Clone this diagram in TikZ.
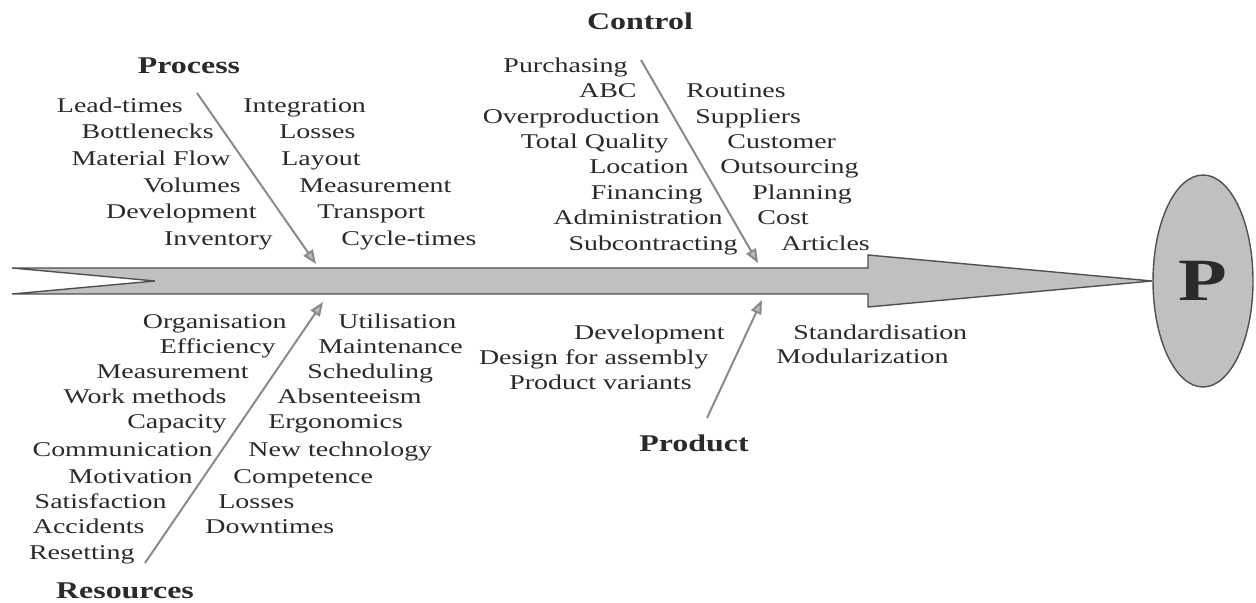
\documentclass[tikz,border=0pt]{standalone}
\usepackage{fontspec}
\setmainfont{Liberation Serif}[FakeStretch=1.33]
\usetikzlibrary{arrows.meta,shapes.geometric}
\definecolor{txt}{HTML}{2A2A2A}
\definecolor{spinefill}{HTML}{C0C0C0}
\definecolor{spineline}{HTML}{505050}
\definecolor{bonecol}{HTML}{8A8A8A}
\begin{document}
\begin{tikzpicture}[x=0.5pt,y=-0.5pt,
  lab/.style={font=\fontsize{10.5}{12}\selectfont, text=txt, inner sep=0pt,
    text height=0.66em, text depth=0pt},
  lft/.style={lab, anchor=east},
  rgt/.style={lab, anchor=west},
  head/.style={font=\bfseries\fontsize{12}{14}\selectfont, text=txt, inner sep=0pt,
    text height=0.66em, text depth=0pt, anchor=center},
  bone/.style={draw=bonecol, line width=1pt,
    -{Triangle[length=7pt,width=5.5pt,fill=bonecol!60]}},
]
\useasboundingbox (0,0) rectangle (1256,603);

% spine of the fishbone with its notched tail and arrowhead
\filldraw[fill=spinefill, draw=spineline, line width=0.7pt, line join=miter]
  (12,268) -- (868,268) -- (868,255) -- (1152,281) -- (868,307) -- (868,294)
  -- (12,294) -- (155,281) -- cycle;

% effect
\node[ellipse, draw=spineline, fill=spinefill, line width=0.7pt,
  minimum width=50pt, minimum height=106pt, inner sep=0pt,
  font=\bfseries\fontsize{30}{32}\selectfont, text=txt] (eff) at (1203,281) {P};

% ---------- Process ----------
\node[head] (hProc) at (189,67) {Process};
\coordinate (procS) at (197,93);
\coordinate (procE) at (316,264);
\draw[bone] (procS) -- (procE);
\node[lft] (pa1) at (183,106) {Lead-times};
\node[lft] (pa2) at (214,132) {Bottlenecks};
\node[lft] (pa3) at (231,159) {Material Flow};
\node[lft] (pa4) at (241,186) {Volumes};
\node[lft] (pa5) at (257,212) {Development};
\node[lft] (pa6) at (273,239) {Inventory};
\node[rgt] (pb1) at (243,106) {Integration};
\node[rgt] (pb2) at (279,132) {Losses};
\node[rgt] (pb3) at (281,159) {Layout};
\node[rgt] (pb4) at (299,186) {Measurement};
\node[rgt] (pb5) at (317,212) {Transport};
\node[rgt] (pb6) at (341,239) {Cycle-times};

% ---------- Control ----------
\node[head] (hCtrl) at (640,23) {Control};
\coordinate (ctrlS) at (641,60);
\coordinate (ctrlE) at (758,263);
\draw[bone] (ctrlS) -- (ctrlE);
\node[lft] (ca1) at (628,66) {Purchasing};
\node[lft] (ca2) at (637,91) {ABC};
\node[lft] (ca3) at (660,117) {Overproduction};
\node[lft] (ca4) at (669,142) {Total Quality};
\node[lft] (ca5) at (689,167) {Location};
\node[lft] (ca6) at (703,193) {Financing};
\node[lft] (ca7) at (723,218) {Administration};
\node[lft] (ca8) at (738,244) {Subcontracting};
\node[rgt] (cb1) at (686,91) {Routines};
\node[rgt] (cb2) at (695,117) {Suppliers};
\node[rgt] (cb3) at (727,142) {Customer};
\node[rgt] (cb4) at (720,167) {Outsourcing};
\node[rgt] (cb5) at (752,193) {Planning};
\node[rgt] (cb6) at (757,218) {Cost};
\node[rgt] (cb7) at (781,244) {Articles};

% ---------- Resources ----------
\node[head] (hRes) at (125,592) {Resources};
\coordinate (resS) at (145,563);
\coordinate (resE) at (323,302);
\draw[bone] (resS) -- (resE);
\node[lft] (ra1) at (287,322) {Organisation};
\node[lft] (ra2) at (276,347) {Efficiency};
\node[lft] (ra3) at (249,372) {Measurement};
\node[lft] (ra4) at (227,397) {Work methods};
\node[lft] (ra5) at (227,422) {Capacity};
\node[lft] (ra6) at (213,450) {Communication};
\node[lft] (ra7) at (193,477) {Motivation};
\node[lft] (ra8) at (167,502) {Satisfaction};
\node[lft] (ra9) at (145,527) {Accidents};
\node[lft] (ra10) at (135,553) {Resetting};
\node[rgt] (rb1) at (338,322) {Utilisation};
\node[rgt] (rb2) at (318,347) {Maintenance};
\node[rgt] (rb3) at (307,372) {Scheduling};
\node[rgt] (rb4) at (277,397) {Absenteeism};
\node[rgt] (rb5) at (268,422) {Ergonomics};
\node[rgt] (rb6) at (248,450) {New technology};
\node[rgt] (rb7) at (233,477) {Competence};
\node[rgt] (rb8) at (218,502) {Losses};
\node[rgt] (rb9) at (205,527) {Downtimes};

% ---------- Product ----------
\node[head] (hProd) at (694,445) {Product};
\coordinate (prodS) at (707,418);
\coordinate (prodE) at (762,300);
\draw[bone] (prodS) -- (prodE);
\node[lft] (da1) at (725,333) {Development};
\node[lft] (da2) at (709,358) {Design for assembly};
\node[lft] (da3) at (692,383) {Product variants};
\node[rgt] (db1) at (793,333) {Standardisation};
\node[rgt] (db2) at (776,357) {Modularization};
\end{tikzpicture}
\end{document}
